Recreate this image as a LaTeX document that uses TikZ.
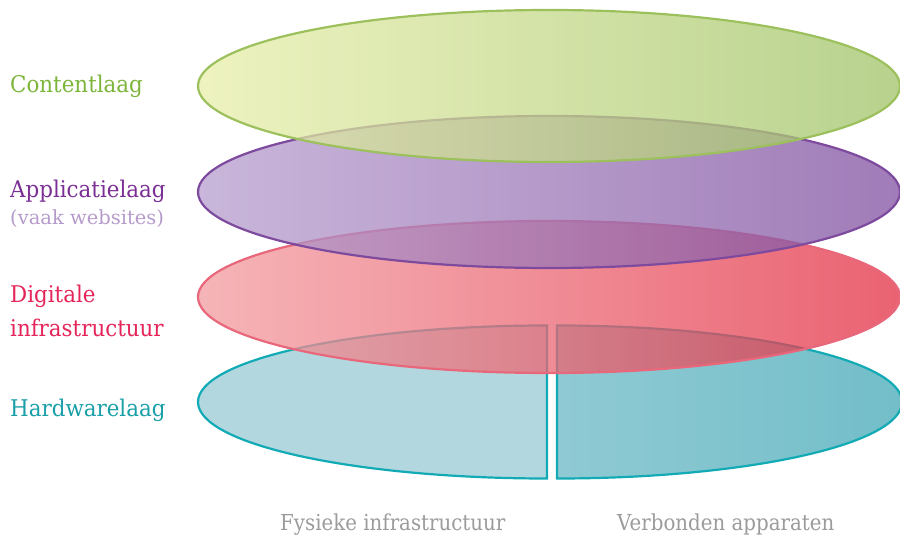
\documentclass[tikz,border=0pt]{standalone}
\usepackage{fontspec}
\setmainfont{DejaVu Serif}
\newfontfamily\labelserif{DejaVu Serif}[FakeStretch=0.93]
\newfontfamily\thinserif{DejaVu Serif}[FakeStretch=0.9]
\begin{document}
\definecolor{grnline}{RGB}{156,192,92}
\definecolor{grnA}{RGB}{232,238,170}
\definecolor{grnB}{RGB}{160,195,104}
\definecolor{grntext}{RGB}{125,181,59}
\definecolor{purline}{RGB}{125,74,158}
\definecolor{purA}{RGB}{183,158,206}
\definecolor{purB}{RGB}{128,80,160}
\definecolor{purtext}{RGB}{123,46,148}
\definecolor{purlight}{RGB}{181,155,203}
\definecolor{redline}{RGB}{232,103,122}
\definecolor{redA}{RGB}{242,156,160}
\definecolor{redB}{RGB}{227,46,67}
\definecolor{redtext}{RGB}{228,37,89}
\definecolor{tealline}{RGB}{18,170,181}
\definecolor{tealA}{RGB}{152,202,212}
\definecolor{tealB}{RGB}{106,184,197}
\definecolor{tealC}{RGB}{67,168,182}
\definecolor{tealtext}{RGB}{26,159,168}
\definecolor{captiongray}{RGB}{155,155,155}
\begin{tikzpicture}[x=1pt,y=-1pt,
  layer/.style={line width=2.2pt, fill opacity=0.75},
  lbl/.style={anchor=base west, inner sep=0pt, font=\labelserif\fontsize{23}{27}\selectfont},
  sublbl/.style={anchor=base west, inner sep=0pt, font=\fontsize{19.5}{23}\selectfont},
  caption/.style={anchor=base west, inner sep=0pt, text=captiongray, font=\thinserif\fontsize{22}{26}\selectfont}]
\useasboundingbox (0,0) rectangle (900,537);

% hardware layer, split in two halves
\draw[layer, draw=tealline, fill=tealA]
  (547,478.5) arc[start angle=90, end angle=270, x radius=349, y radius=76.5] -- cycle;
\draw[layer, draw=tealline, left color=tealB, right color=tealC]
  (557,325.5) arc[start angle=-90, end angle=90, x radius=345, y radius=76.5] -- cycle;

% digital infrastructure layer
\draw[layer, draw=redline, left color=redA, right color=redB]
  (549,297) ellipse[x radius=351, y radius=76];

% application layer
\draw[layer, draw=purline, left color=purA, right color=purB]
  (549,192) ellipse[x radius=351, y radius=76];

% content layer
\draw[layer, draw=grnline, left color=grnA, right color=grnB]
  (549,86) ellipse[x radius=351, y radius=76];

% layer names
\node[lbl, text=grntext] (content) at (10,93) {Contentlaag};
\node[lbl, text=purtext] (app) at (10,198) {Applicatielaag};
\node[sublbl, text=purlight] (appsub) at (10,225) {(vaak websites)};
\node[lbl, text=redtext] (dig) at (10,303) {Digitale};
\node[lbl, text=redtext] (infra) at (10,337) {infrastructuur};
\node[lbl, text=tealtext] (hw) at (10,417) {Hardwarelaag};

% captions under the two hardware halves
\node[caption] (phys) at (280,530) {Fysieke infrastructuur};
\node[caption] (dev) at (617,530) {Verbonden apparaten};
\end{tikzpicture}
\end{document}
